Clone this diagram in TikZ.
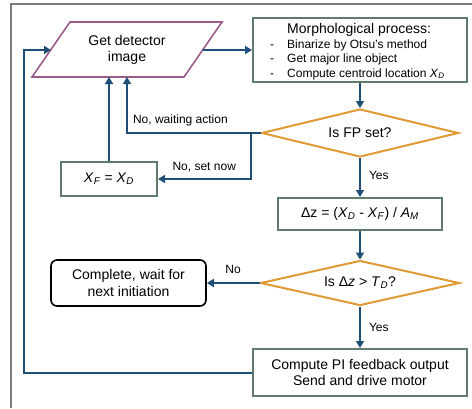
\documentclass[tikz,border=0pt]{standalone}
\usepackage{fontspec}
\setmainfont{Liberation Sans}
\usetikzlibrary{shapes.geometric,arrows.meta}
\definecolor{flowblue}{HTML}{1F4E79}
\definecolor{boxgray}{HTML}{607B6C}
\definecolor{decorange}{HTML}{E09A35}
\definecolor{iopurple}{HTML}{9B5C8C}
\definecolor{framegray}{HTML}{7A7A7A}
\newcommand{\sv}[2]{\textit{#1}\textsubscript{\textit{#2}}}
\begin{document}
\begin{tikzpicture}[x=1pt,y=1pt,
 font=\fontsize{14}{15.5}\selectfont,
 procbox/.style={draw=boxgray, line width=2pt, fill=white, inner sep=0pt, align=center},
 decision/.style={diamond, aspect=4.1, draw=decorange, line width=2pt, inner sep=0pt},
 endbox/.style={draw=black, line width=1.6pt, rounded corners=6pt, inner sep=0pt, align=center},
 arr/.style={draw=flowblue, line width=2pt, -{Triangle[length=7pt,width=8pt]}},
 lbl/.style={font=\fontsize{12}{14}\selectfont, inner sep=0pt}
]
\useasboundingbox (0,0) rectangle (472,-408);
\draw[framegray, line width=1.6pt] (11,-408) -- (11,-4) -- (472,-4);

% input parallelogram
\draw[iopurple, line width=1.6pt] (70,-22) -- (222,-22) -- (184,-77) -- (32,-77) -- cycle;
\node[align=center, inner sep=0pt] (pg) at (127,-50) {Get detector\\image};
\coordinate (pgL) at (51,-50);
\coordinate (pgR) at (203,-50);
\coordinate (pgB1) at (127,-77);
\coordinate (pgB2) at (109,-77);

% morphological process box
\node[procbox, minimum width=214pt, minimum height=64pt] (morph) at (360,-50) {};
\node[anchor=west, inner sep=0pt, font=\fontsize{12}{14.5}\selectfont] (morphtxt) at (270,-52.5)
 {\begin{tabular}{@{}l@{\hspace{13pt}}l@{}}
  & {\fontsize{14}{14.5}\selectfont Morphological process:}\\
  - & Binarize by Otsu's method\\
  - & Get major line object\\
  - & Compute centroid location \sv{X}{D}
 \end{tabular}};

\node[decision, minimum width=197pt, minimum height=48pt] (d1) at (360,-133) {Is FP set?};
\node[procbox, minimum width=96pt, minimum height=34pt] (xfxd) at (109,-179) {\sv{X}{F} = \sv{X}{D}};
\node[procbox, minimum width=164pt, minimum height=32pt] (dz) at (360,-214) {Δz = (\sv{X}{D} - \sv{X}{F}) / \sv{A}{M}};
\node[decision, minimum width=199pt, minimum height=45pt] (d2) at (360,-283) {Is Δ\textit{z} > \sv{T}{D}?};
\node[endbox, minimum width=155pt, minimum height=46pt, font=\fontsize{14}{16.5}\selectfont] (done) at (128.5,-283) {Complete, wait for\\next initiation};
\node[procbox, minimum width=214pt, minimum height=47pt, font=\fontsize{14}{16}\selectfont] (pi) at (360,-372.5) {Compute PI feedback output\\Send and drive motor};
\coordinate (fbTop) at (24,-50);

% connectors
\draw[arr] (pgR) -- (morph.west);
\draw[arr] (morph.south) -- (d1.north);
\draw[arr] (d1.west) -| node[lbl, pos=0.3, above=6pt] {No, waiting action} (pgB1);
\draw[arr] (d1.west) -- ++(-10,0) |- node[lbl, pos=0.75, above=6pt] {No, set now} (xfxd.east);
\draw[arr] (xfxd.north) -- (pgB2);
\draw[arr] (d1.south) -- node[lbl, pos=0.45, right=8pt] {Yes} (dz.north);
\draw[arr] (dz.south) -- (d2.north);
\draw[arr] (d2.west) -- node[lbl, above=8pt] {No} (done.east);
\draw[arr] (d2.south) -- node[lbl, right=8pt] {Yes} (pi.north);
\draw[arr] (pi.west) -| (fbTop) -- (pgL);
\end{tikzpicture}
\end{document}
